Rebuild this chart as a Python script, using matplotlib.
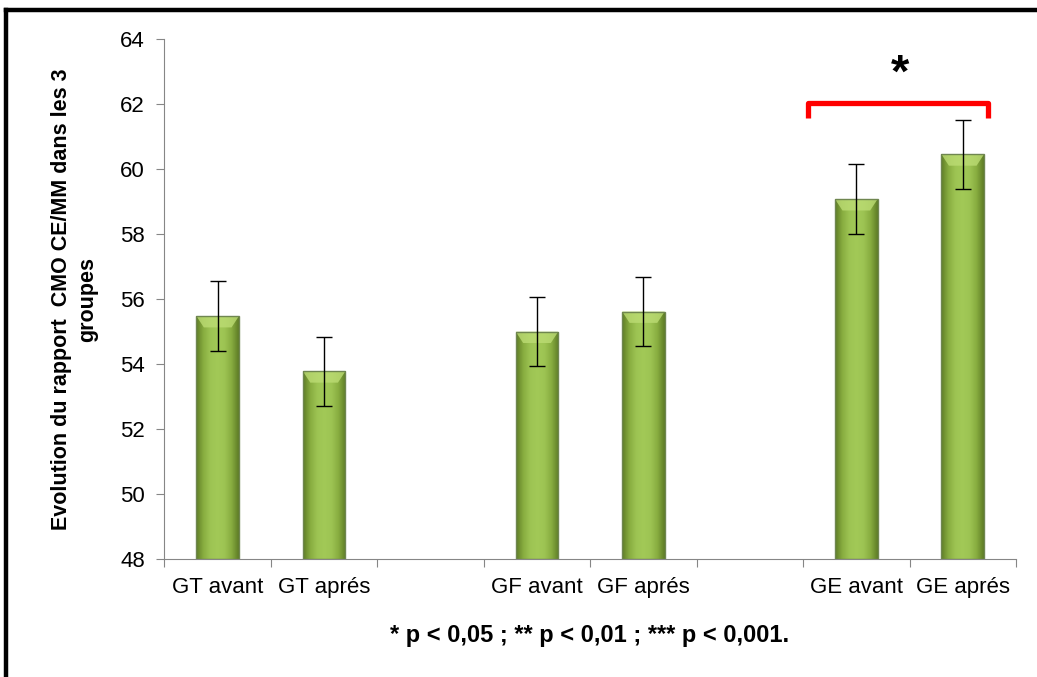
import numpy as np
import matplotlib.pyplot as plt
from matplotlib.colors import LinearSegmentedColormap
from matplotlib.patches import Rectangle, Polygon

plt.rcParams['font.family'] = ['Liberation Sans Narrow', 'Liberation Sans', 'DejaVu Sans']

labels = ["GT avant", "GT aprés", "GF avant", "GF aprés", "GE avant", "GE aprés"]
positions = [0, 1, 3, 4, 6, 7]
values = [55.48, 53.78, 55.0, 55.62, 59.08, 60.46]
errors = [1.07, 1.07, 1.07, 1.07, 1.07, 1.07]

fig = plt.figure(figsize=(10.37, 6.77), dpi=100)
ax = fig.add_axes([0.1586, 0.1743, 0.8211, 0.7676])

bar_w = 0.4
green = LinearSegmentedColormap.from_list(
    "g", ["#5f7d26", "#88ad40", "#9dc453", "#a2c957", "#9dc453", "#88ad40", "#5f7d26"])
grad = np.linspace(0, 1, 64).reshape(1, -1)

for x, v in zip(positions, values):
    rect = Rectangle((x - bar_w / 2, 48), bar_w, v - 48, facecolor="none",
                     edgecolor="#6f8650", linewidth=1.0, zorder=3)
    ax.add_patch(rect)
    im = ax.imshow(grad, cmap=green, aspect="auto", zorder=2,
                   extent=(x - bar_w / 2, x + bar_w / 2, 48, v))
    im.set_clip_path(rect)
    # light bevel on top
    d = 0.07
    top = Polygon([(x - bar_w / 2, v), (x + bar_w / 2, v),
                   (x + bar_w / 2 - d, v - 0.35), (x - bar_w / 2 + d, v - 0.35)],
                  closed=True, facecolor="#bcdc74", edgecolor="none", alpha=0.8, zorder=2.5)
    ax.add_patch(top)

ax.errorbar(positions, values, yerr=errors, fmt="none", ecolor="black",
            elinewidth=1, capsize=6, capthick=1, zorder=4)

ax.set_xlim(-0.5, 7.5)
ax.set_ylim(48, 64)
ax.set_yticks(np.arange(48, 65, 2))
ax.set_xticks(np.arange(-0.5, 8, 1))
ax.set_xticklabels([])
ax.set_xticks(positions, minor=True)
ax.set_xticklabels(labels, minor=True)
ax.tick_params(axis="x", which="minor", length=0, pad=13, labelsize=16)
ax.tick_params(axis="x", which="major", length=6, color="#868686")
ax.tick_params(axis="y", length=6, color="#868686", labelsize=16, pad=8)
for s in ["top", "right"]:
    ax.spines[s].set_visible(False)
for s in ["left", "bottom"]:
    ax.spines[s].set_color("#868686")

ax.set_ylabel("Evolution du rapport  CMO CE/MM dans les 3\ngroupes",
              fontsize=15.5, fontweight="bold", labelpad=16, linespacing=1.3)

# significance bracket
ax.plot([5.55, 5.55, 7.24, 7.24], [61.58, 62.04, 62.04, 61.58], color="red",
        linewidth=3.8, solid_joinstyle="round", solid_capstyle="butt",
        clip_on=False, zorder=5)
ax.text(6.41, 62.9, "*", ha="center", va="center", fontsize=34,
        fontweight="bold", clip_on=False)

fig.text(0.569, 0.062, "* p < 0,05 ; ** p < 0,01 ; *** p < 0,001.",
         ha="center", va="center", fontsize=17, fontweight="bold")

# frame lines at top and left
fig.add_artist(plt.Line2D([0.0062, 1.0], [0.9852, 0.9852], color="black",
                          linewidth=3.2, transform=fig.transFigure))
fig.add_artist(plt.Line2D([0.0062, 0.0062], [0.0, 0.9852], color="black",
                          linewidth=3.2, transform=fig.transFigure))

fig.savefig("out.png", dpi=100)
